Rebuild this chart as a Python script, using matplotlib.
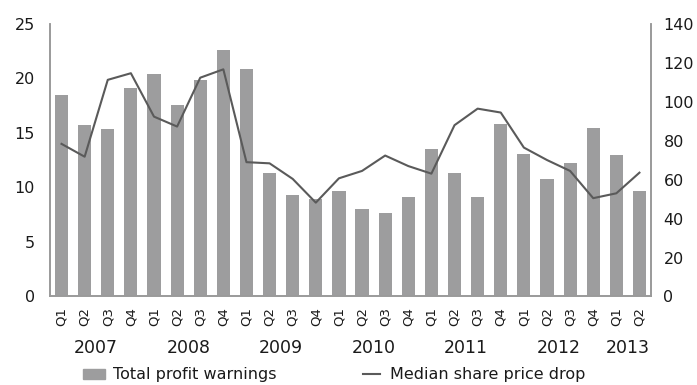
import numpy as np
import matplotlib
matplotlib.use("Agg")
import matplotlib.pyplot as plt
from matplotlib.patches import Patch
from matplotlib.lines import Line2D

plt.rcParams['font.family'] = ['DejaVu Sans']

years = ["2007", "2008", "2009", "2010", "2011", "2012", "2013"]
quarters = ["Q1", "Q2", "Q3", "Q4"] * 6 + ["Q1", "Q2"]

profit_warnings = [18.5, 15.7, 15.4, 19.1, 20.4, 17.55, 19.85, 22.6,
                   20.9, 11.3, 9.3, 8.9, 9.7, 8.05, 7.7, 9.15,
                   13.5, 11.3, 9.15, 15.8, 13.1, 10.8, 12.2, 15.5,
                   12.95, 9.7]
share_price_drop = [78.4, 71.8, 111.3, 114.7, 92.4, 87.3, 112.4, 116.7,
                    69.0, 68.4, 60.4, 48.2, 60.7, 64.5, 72.4, 67.0,
                    63.1, 88.0, 96.5, 94.5, 76.5, 70.1, 64.5, 50.5,
                    53.0, 63.6]

bar_color = "#9d9d9e"
line_color = "#5a5a5a"
spine_color = "#9a9a9a"
text_color = "#1a1a1a"

fig = plt.figure(figsize=(6.97, 3.85), dpi=100)
ax = fig.add_axes([0.0717, 0.230, 0.8623, 0.7077])
ax2 = ax.twinx()

x = np.arange(len(profit_warnings))
ax.bar(x, profit_warnings, width=0.57, color=bar_color, zorder=1)
ax2.plot(x, share_price_drop, color=line_color, lw=1.5, zorder=2)

ax.set_xlim(-0.5, len(x) - 0.5)
ax.set_ylim(0, 25)
ax2.set_ylim(0, 140)
ax.set_yticks(range(0, 26, 5))
ax2.set_yticks(range(0, 141, 20))

for a in (ax, ax2):
    a.spines['top'].set_visible(False)
    for s in ('left', 'right', 'bottom'):
        a.spines[s].set_color(spine_color)
        a.spines[s].set_linewidth(1.2)
    a.tick_params(length=0, labelsize=11.5, colors=text_color)
ax.tick_params(axis='y', pad=11)
ax2.tick_params(axis='y', pad=9)

ax.set_xticks(x)
ax.set_xticklabels(quarters, rotation=90, fontsize=9.5)
ax.tick_params(axis='x', pad=7.5)

# year labels centred under each group of quarters
for i, yr in enumerate(years):
    n = 4 if yr != "2013" else 2
    center = i * 4 + (n - 1) / 2
    ax.text(center, -0.19, yr, transform=ax.get_xaxis_transform(),
            ha='center', va='center', fontsize=12.5, color=text_color)

leg_kw = dict(loc='center left', frameon=False, fontsize=11.5,
              borderpad=0, borderaxespad=0, labelcolor=text_color)
leg1 = fig.legend([Patch(color=bar_color)], ["Total profit warnings"],
                  bbox_to_anchor=(83 / 697, 1 - 375 / 385),
                  handlelength=1.4, handleheight=0.55, handletextpad=0.5, **leg_kw)
leg2 = fig.legend([Line2D([], [], color=line_color, lw=1.5)], ["Median share price drop"],
                  bbox_to_anchor=(363 / 697, 1 - 375 / 385),
                  handlelength=1.05, handletextpad=0.65, **leg_kw)

fig.savefig("out.png", dpi=100)
